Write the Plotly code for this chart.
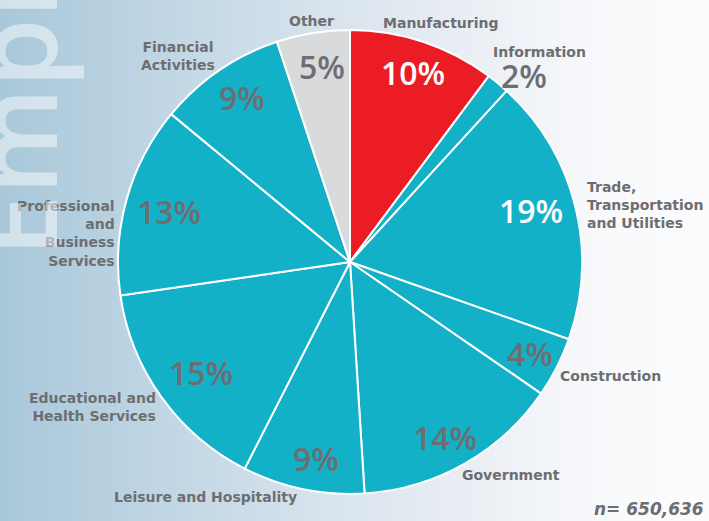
import base64
import math
import struct
import zlib

import plotly.graph_objects as go

# --- data -------------------------------------------------------------
sectors = [
    "Manufacturing", "Information", "Trade, Transportation and Utilities",
    "Construction", "Government", "Leisure and Hospitality",
    "Educational and Health Services", "Professional and Business Services",
    "Financial Activities", "Other",
]
share = [10.2, 1.6, 18.6, 4.2, 14.4, 8.5, 15.2, 13.3, 8.9, 5.1]
pct_shown = [10, 2, 19, 4, 14, 9, 15, 13, 9, 5]
label_text = [
    "Manufacturing", "Information", "Trade,<br>Transportation<br>and Utilities",
    "Construction", "Government", "Leisure and Hospitality",
    "Educational and<br>Health Services", "Professional<br>and<br>Business<br>Services",
    "Financial<br>Activities", "Other",
]
n_total = "650,636"

# --- look -------------------------------------------------------------
W, H = 709, 521
CX, CY, R = 350, 262, 232
TEAL, RED, LIGHT = "#13b1c8", "#ec1c24", "#d9dadb"
GREY = "#6d6e71"
LABEL_FONT = "DejaVu Sans"
colors = [RED] + [TEAL] * 8 + [LIGHT]
pct_color = ["white", GREY, "white", GREY, GREY, GREY, GREY, GREY, GREY, GREY]
pct_r = [0.86, 1.10, 0.81, 0.87, 0.86, 0.86, 0.80, 0.81, 0.85, 0.85]
pct_nudge = [0, 3.5, -2, 0, 1, -2, -1, 0, 1, 1]

# category label anchors (pixels), xanchor
label_pos = [
    (441, 23, "center"), (539, 52, "center"), (585, 205, "left"),
    (558, 376, "left"), (511, 475, "center"), (205, 497, "center"),
    (158, 407, "right"), (117, 233, "right"), (178, 56, "center"),
    (311, 21, "center"),
]


def px(x, y):
    return x / W, 1 - y / H


def gradient_png():
    stops = [(0.0, (168, 200, 218)), (0.35, (205, 221, 233)),
             (0.6, (229, 235, 242)), (0.85, (248, 249, 251)),
             (1.0, (252, 252, 253))]
    row = b"\x00"
    for i in range(W):
        t = i / (W - 1)
        for (t0, c0), (t1, c1) in zip(stops, stops[1:]):
            if t0 <= t <= t1:
                f = (t - t0) / (t1 - t0)
                row += bytes(int(round(a + (b - a) * f)) for a, b in zip(c0, c1))
                break
    raw = row * 4

    def chunk(tag, data):
        c = struct.pack(">I", len(data)) + tag + data
        return c + struct.pack(">I", zlib.crc32(tag + data) & 0xFFFFFFFF)

    png = b"\x89PNG\r\n\x1a\n"
    png += chunk(b"IHDR", struct.pack(">IIBBBBB", W, 4, 8, 2, 0, 0, 0))
    png += chunk(b"IDAT", zlib.compress(raw))
    png += chunk(b"IEND", b"")
    return "data:image/png;base64," + base64.b64encode(png).decode()


fig = go.Figure()
fig.add_trace(go.Pie(
    labels=sectors, values=share, sort=False, direction="clockwise",
    rotation=0, textinfo="none", hoverinfo="label+percent",
    marker=dict(colors=colors, line=dict(color="white", width=2)),
    domain=dict(x=[(CX - R) / W, (CX + R) / W],
                y=[1 - (CY + R) / H, 1 - (CY - R) / H]),
    showlegend=False,
))

annotations = []
total = sum(share)
cum = 0
for i, v in enumerate(share):
    mid = math.radians((cum + v / 2) / total * 360 + pct_nudge[i])
    cum += v
    x = CX + pct_r[i] * R * math.sin(mid)
    y = CY - pct_r[i] * R * math.cos(mid)
    ax, ay = px(x, y)
    annotations.append(dict(
        x=ax, y=ay, xref="paper", yref="paper", showarrow=False,
        xanchor="center", yanchor="middle",
        text=f"{pct_shown[i]}%",
        font=dict(family="Open Sans", size=32, color=pct_color[i], weight=600),
    ))
    lx, ly, anchor = label_pos[i]
    bx, by = px(lx, ly)
    annotations.append(dict(
        x=bx, y=by, xref="paper", yref="paper", showarrow=False,
        xanchor=anchor, yanchor="middle", align=anchor, text=label_text[i],
        font=dict(family=LABEL_FONT, size=14, color=GREY, weight="bold"),
    ))

annotations.append(dict(
    x=706 / W, y=1 - 509 / H, xref="paper", yref="paper", showarrow=False,
    xanchor="right", yanchor="middle", text=f"<i>n= {n_total}</i>",
    font=dict(family=LABEL_FONT, size=17, color=GREY, weight="bold"),
))
annotations.append(dict(
    x=92 / W, y=1 - 259 / H, xref="paper", yref="paper", showarrow=False,
    xanchor="right", yanchor="bottom", textangle=-90, text="Employment",
    font=dict(family="Open Sans", size=112, color="rgba(255,255,255,0.48)",
              weight=600),
))

fig.update_layout(
    width=W, height=H,
    margin=dict(l=0, r=0, t=0, b=0),
    paper_bgcolor="white",
    images=[dict(source=gradient_png(), xref="paper", yref="paper",
                 x=0, y=1, sizex=1, sizey=1, sizing="stretch",
                 layer="below")],
    annotations=annotations,
)

fig.write_html("out.html", config={"displayModeBar": False},
               post_script="document.body.style.margin='0';")
